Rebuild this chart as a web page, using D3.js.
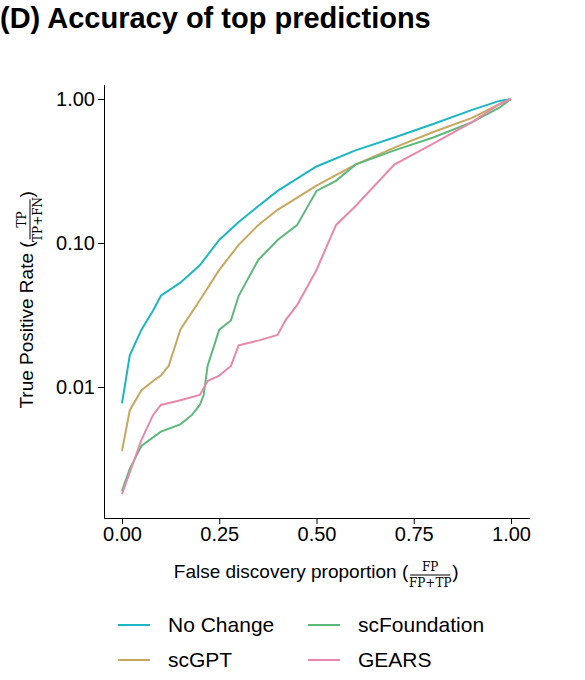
<!DOCTYPE html>
<html><head><meta charset="utf-8">
<script src="https://cdn.jsdelivr.net/npm/d3@7"></script>
<style>body{margin:0;background:#fff;font-family:"Liberation Sans",Arial,sans-serif;}</style>
</head><body><div id="plot"></div>
<script>
const xs = [0, 0.02, 0.05, 0.08, 0.1, 0.15, 0.2, 0.25, 0.3, 0.35, 0.4, 0.5, 0.6, 0.7, 0.8, 0.9, 0.97, 1];
const noChange = [0.0077, 0.0166, 0.025, 0.034, 0.043, 0.053, 0.07, 0.105, 0.14, 0.18, 0.23, 0.34, 0.44, 0.54, 0.67, 0.84, 0.97, 1];
const scgptX = [0, 0.02, 0.05, 0.08, 0.1, 0.12, 0.15, 0.2, 0.25, 0.3, 0.35, 0.4, 0.5, 0.6, 0.7, 0.8, 0.9, 0.97, 1];
const scgpt = [0.0036, 0.0069, 0.0095, 0.011, 0.012, 0.014, 0.025, 0.04, 0.065, 0.097, 0.133, 0.17, 0.25, 0.35, 0.46, 0.59, 0.74, 0.92, 1];
const scfX = [0, 0.02, 0.05, 0.1, 0.15, 0.18, 0.2, 0.21, 0.22, 0.25, 0.28, 0.3, 0.35, 0.4, 0.45, 0.5, 0.55, 0.6, 0.7, 0.8, 0.9, 0.97, 1];
const scf = [0.0019, 0.0027, 0.0039, 0.0049, 0.0055, 0.0064, 0.0075, 0.0088, 0.014, 0.025, 0.029, 0.043, 0.076, 0.105, 0.133, 0.23, 0.27, 0.35, 0.44, 0.54, 0.69, 0.87, 1];
const gearsX = [0, 0.05, 0.08, 0.1, 0.15, 0.2, 0.22, 0.25, 0.28, 0.3, 0.35, 0.4, 0.42, 0.45, 0.5, 0.55, 0.6, 0.7, 0.8, 0.9, 0.97, 1];
const gears = [0.0018, 0.0043, 0.0064, 0.0075, 0.0081, 0.0088, 0.011, 0.012, 0.014, 0.0195, 0.021, 0.023, 0.029, 0.037, 0.065, 0.133, 0.18, 0.35, 0.49, 0.69, 0.92, 1];
const xTicks = [0, 0.25, 0.5, 0.75, 1];
const yTicks = [0.01, 0.1, 1];

const series = [
  {name: "No Change", x: xs, y: noChange, color: "#1db6c4"},
  {name: "scGPT", x: scgptX, y: scgpt, color: "#c8a75e"},
  {name: "scFoundation", x: scfX, y: scf, color: "#5cb97a"},
  {name: "GEARS", x: gearsX, y: gears, color: "#e888aa"}
];

const svg = d3.select("#plot").append("svg").attr("width", 585).attr("height", 680);

const x = d3.scaleLinear().domain([0, 1]).range([122, 511]);
const y = d3.scaleLog().domain([0.01, 1]).range([387, 99]);

svg.append("text").attr("x", 0).attr("y", 28).attr("font-size", 29).attr("font-weight", "bold").text("(D) Accuracy of top predictions");

svg.append("g").attr("transform", "translate(0,518)")
  .call(d3.axisBottom(x).tickValues(xTicks).tickFormat(d3.format(".2f")).tickSizeOuter(0))
  .call(g => g.select(".domain").attr("d", "M104,0.5H530"))
  .call(g => g.selectAll("text").attr("font-size", 20).attr("fill", "#000").attr("font-family", "Liberation Sans"));
svg.append("g").attr("transform", "translate(104,0)")
  .call(d3.axisLeft(y).tickValues(yTicks).tickFormat(d3.format(".2f")).tickSizeOuter(0))
  .call(g => g.select(".domain").attr("d", "M0.5,85V518"))
  .call(g => g.selectAll("text").attr("font-size", 20).attr("fill", "#000").attr("font-family", "Liberation Sans"));

const line = d3.line().x(d => x(d[0])).y(d => y(d[1]));
svg.selectAll("path.s").data(series).enter().append("path")
  .attr("class", "s").attr("fill", "none").attr("stroke", d => d.color).attr("stroke-width", 2)
  .attr("d", d => line(d.x.map((v, i) => [v, d.y[i]])));

// label text followed by a small fraction and a closing paren
function fracLabel(g, label, num, den) {
  const t = g.append("text").attr("x", 0).attr("y", 0).text(label);
  const w = t.node().getComputedTextLength();
  const fw = 40, cx = w + 2 + fw / 2;
  g.append("text").attr("x", cx).attr("y", -7).attr("font-size", 12).attr("font-family", "DejaVu Serif").attr("text-anchor", "middle").text(num);
  g.append("line").attr("x1", w + 2).attr("x2", w + 2 + fw).attr("y1", -3).attr("y2", -3).attr("stroke", "#000");
  g.append("text").attr("x", cx).attr("y", 9).attr("font-size", 12).attr("font-family", "DejaVu Serif").attr("text-anchor", "middle").text(den);
  g.append("text").attr("x", w + 4 + fw).attr("y", 0).text(")");
  return w + 10 + fw;
}
const xl = svg.append("g").attr("font-size", 19);
const xw = fracLabel(xl, "False discovery proportion (", "FP", "FP+TP");
xl.attr("transform", `translate(${316 - xw / 2},578)`);

const yl = svg.append("g").attr("font-size", 19);
const yw = fracLabel(yl, "True Positive Rate (", "TP", "TP+FN");
yl.attr("transform", `translate(33,${300 + yw / 2}) rotate(-90)`);

// legend
const pos = [[118, 625], [118, 660], [308, 625], [308, 660]];
const lg = svg.selectAll("g.lg").data(series).enter().append("g").attr("class", "lg")
  .attr("transform", (d, i) => `translate(${pos[i][0]},${pos[i][1]})`);
lg.append("line").attr("x1", 0).attr("x2", 32).attr("stroke", d => d.color).attr("stroke-width", 2);
lg.append("text").attr("x", 50).attr("y", 7).attr("font-size", 21).text(d => d.name);
</script></body></html>
